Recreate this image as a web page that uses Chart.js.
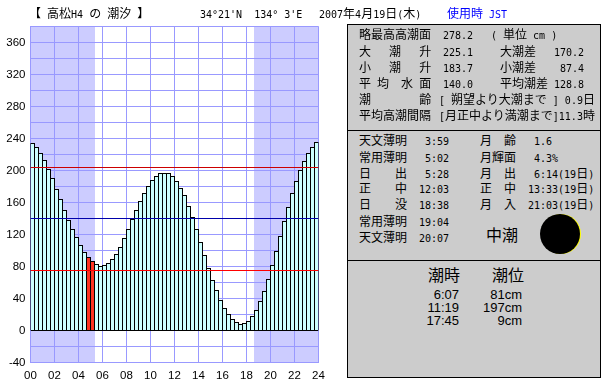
<!DOCTYPE html>
<html lang="ja">
<head>
<meta charset="utf-8">
<title>高松H4 の 潮汐</title>
<script src="https://cdn.jsdelivr.net/npm/chart.js@4"></script>
<style>
    html, body { margin: 0; padding: 0; background: #fff; }
    #wrap { position: relative; width: 610px; height: 385px; overflow: hidden; }
    #grafico { position: absolute; left: 0; top: 0; }
    .painel { position: absolute; box-sizing: border-box; background: #ccc; border: 1px solid #000; }
    .t { position: absolute; white-space: pre; transform: translateY(-50%); color: #000;
         font: 12px "Noto Sans CJK JP", sans-serif; line-height: 14px; }
    .t .n { font: 10px "DejaVu Sans Mono", monospace; }
    .t.g { font-size: 16px; line-height: 18px; }
    .t.m { font: 13px "Liberation Sans", sans-serif; }
    .lua { position: absolute; border-radius: 50%; }
</style>
</head>
<body>
<div id="wrap">
    <canvas id="grafico" width="610" height="385"></canvas>
</div>
<script>
// nivel da mare a cada 20 minutos (cm)
const tideLevels = [
    234.4, 229.4, 221.9, 213.1, 201.9, 190.6, 176.9, 164.4, 150.6, 138.1, 126.9, 116.9,
    106.9, 98.1, 91.9, 86.9, 83.1, 80.6, 81.9, 84.4, 89.4, 95.6, 104.4, 115.6,
    126.9, 139.4, 150.6, 161.9, 171.9, 180.6, 188.1, 193.1, 196.9, 196.9, 196.9, 193.1,
    186.9, 178.1, 169.4, 155.6, 141.9, 126.9, 110.6, 94.4, 78.1, 63.1, 50.6, 38.1,
    28.1, 20.6, 14.4, 10.6, 8.1, 9.4, 11.9, 18.1, 25.6, 36.9, 49.4, 64.4,
    81.9, 99.4, 118.1, 136.9, 154.4, 171.9, 186.9, 200.6, 211.9, 221.9, 229.4, 235.6
];
// meio de cada intervalo de 20 minutos, em horas
const slotHours = tideLevels.map((_, i) => (i + 0.5) / 3);
const currentSlots = [14, 15];
const nightSpans = [[0, 5.4], [18.65, 24]];
const upperLevel = 203.75;
const meanLevel = 140;
const lowerLevel = 75;

const titleTexts = ["【 高松H4 の 潮汐 】", "34°21'N  134° 3'E", "2007年4月19日(木)", "使用時 JST"];

const tideRows = [
    ["略最高高潮面", "278.2", "( 単位 cm )"],
    ["大   潮   升", "225.1", "大潮差"],
    ["小   潮   升", "183.7", "小潮差"],
    ["平 均  水 面", "140.0", "平均潮差"]
];
const tideDiffs = ["", "170.2", "87.4", "128.8"];
const tideNotes = [
    ["潮        齢", "[ 朔望より大潮まで ] 0.9日"],
    ["平均高潮間隔", "[月正中より満潮まで]11.3時"]
];

const sunLabels = ["天文薄明", "常用薄明", "日    出", "正    中", "日    没", "常用薄明", "天文薄明"];
const sunTimes = ["3:59", "5:02", "5:28", "12:03", "18:38", "19:04", "20:07"];
const moonLabels = ["月  齢", "月輝面", "月  出", "正  中", "月  入"];
const moonValues = ["1.6", "4.3%", "6:14(19日)", "13:33(19日)", "21:03(19日)"];
const tideName = "中潮";

const extremeTimes = ["6:07", "11:19", "17:45"];
const extremeLevels = ["81cm", "197cm", "9cm"];

document.addEventListener("DOMContentLoaded", function() {
    const wrap = document.getElementById("wrap");

    function painel(x, y, w, h) {
        const el = document.createElement("div");
        el.className = "painel";
        el.style.cssText = `left:${x}px;top:${y}px;width:${w}px;height:${h}px`;
        wrap.appendChild(el);
    }

    // escreve texto; trechos latinos ficam em meia largura
    function put(x, y, texto, cls, cor) {
        const el = document.createElement("div");
        el.className = "t " + (cls || "");
        el.style.top = y + "px";
        if (cls && cls.includes("dir")) {
            el.style.right = (610 - x) + "px";
        } else {
            el.style.left = x + "px";
        }
        if (cor) el.style.color = cor;
        if (cls && cls.includes("m")) {
            el.textContent = texto;
        } else {
            el.innerHTML = texto.replace(/[\x20-\x7e°]+/g, m => `<span class="n">${m}</span>`);
        }
        wrap.appendChild(el);
    }

    painel(347, 24, 254, 107);
    painel(347, 130, 254, 131);
    painel(347, 260, 254, 118);

    put(29, 13, titleTexts[0]);
    put(200, 13, titleTexts[1]);
    put(319, 13, titleTexts[2]);
    put(447, 13, titleTexts[3], "", "#0000ff");

    const rowsY = [34, 51, 67, 83];
    tideRows.forEach((r, i) => {
        put(359, rowsY[i], r[0]);
        put(443, rowsY[i], r[1]);
        put(i === 0 ? 491 : 500, rowsY[i], r[2]);
        if (tideDiffs[i]) put(584, rowsY[i], tideDiffs[i], "dir");
    });
    tideNotes.forEach((r, i) => {
        put(359, 99 + i * 16, r[0]);
        put(439, 99 + i * 16, r[1]);
    });

    const sunY = [140, 157, 173, 188, 204, 221, 237];
    sunLabels.forEach((s, i) => {
        put(359, sunY[i], s);
        put(449, sunY[i], sunTimes[i], "dir");
    });
    moonLabels.forEach((s, i) => {
        put(480, sunY[i], s);
        put(i < 3 ? 534 : 528, sunY[i], moonValues[i]);
    });
    put(486, 234, tideName, "g");

    const luaAmarela = document.createElement("div");
    luaAmarela.className = "lua";
    luaAmarela.style.cssText = "left:541px;top:214px;width:40px;height:40px;background:#ff0";
    wrap.appendChild(luaAmarela);
    const luaPreta = document.createElement("div");
    luaPreta.className = "lua";
    luaPreta.style.cssText = "left:540px;top:214px;width:40px;height:40px;background:#000";
    wrap.appendChild(luaPreta);

    put(428, 274, "潮時", "g");
    put(492, 274, "潮位", "g");
    extremeTimes.forEach((s, i) => {
        put(459, 294 + i * 13, s, "m dir");
        put(522, 294 + i * 13, extremeLevels[i], "m dir");
    });

    // faixas de noite ficam por baixo da grade
    const faixasNoite = {
        id: "faixasNoite",
        beforeDraw(chart) {
            const { ctx, chartArea, scales } = chart;
            ctx.save();
            ctx.fillStyle = "#ccccff";
            nightSpans.forEach(([de, ate]) => {
                const x0 = Math.round(scales.x.getPixelForValue(de));
                const x1 = Math.round(scales.x.getPixelForValue(ate));
                ctx.fillRect(x0, chartArea.top, x1 - x0, chartArea.bottom - chartArea.top);
            });
            ctx.restore();
        }
    };

    function linha(valor, cor) {
        return {
            type: "line",
            data: [{ x: 0, y: valor }, { x: 24, y: valor }],
            borderColor: cor,
            borderWidth: 1,
            pointRadius: 0,
            order: 1
        };
    }

    const tickFont = { family: "'Liberation Sans', sans-serif", size: 11.5 };

    new Chart(document.getElementById("grafico").getContext("2d"), {
        data: {
            datasets: [
                {
                    type: "bar",
                    data: tideLevels.map((v, i) => ({ x: slotHours[i], y: v })),
                    backgroundColor: ctx => currentSlots.includes(ctx.dataIndex) ? "#ff3322" : "#ccffff",
                    borderColor: "#000",
                    borderWidth: { top: 1, left: 1, right: 1, bottom: 0 },
                    borderSkipped: false,
                    inflateAmount: 0,
                    barThickness: 5,
                    order: 2
                },
                linha(0, "#000"),
                linha(upperLevel, "#cc0000"),
                linha(meanLevel, "#0000aa"),
                linha(lowerLevel, "#ff0000")
            ]
        },
        options: {
            responsive: false,
            animation: false,
            layout: { padding: { left: 0, top: 26.5, right: 291.5, bottom: 0 } },
            plugins: { legend: { display: false }, tooltip: { enabled: false } },
            scales: {
                x: {
                    type: "linear",
                    offset: false,
                    position: "bottom",
                    min: 0,
                    max: 24,
                    afterFit: s => { s.height = 22.5; },
                    grid: { color: "#9999ff", drawTicks: false, offset: false },
                    border: { color: "#9999ff" },
                    ticks: {
                        stepSize: 2,
                        autoSkip: false,
                        maxRotation: 0,
                        padding: 6,
                        color: "#000",
                        font: tickFont,
                        callback: v => String(v).padStart(2, "0")
                    }
                },
                y: {
                    min: -40,
                    max: 380,
                    afterFit: s => { s.width = 30.5; },
                    grid: { color: "#9999ff", drawTicks: false },
                    border: { color: "#9999ff" },
                    ticks: {
                        stepSize: 20,
                        autoSkip: false,
                        padding: 5,
                        color: "#000",
                        font: tickFont,
                        callback: v => v % 40 === 0 ? v : ""
                    }
                }
            }
        },
        plugins: [faixasNoite]
    });
});
</script>
</body>
</html>
